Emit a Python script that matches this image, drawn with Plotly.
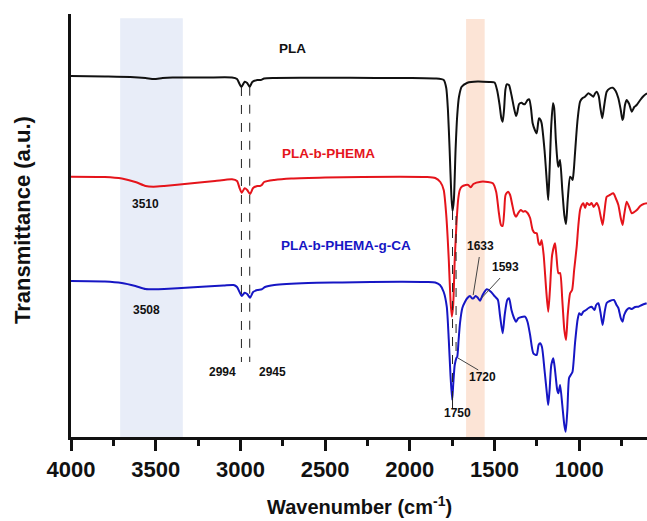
import numpy as np
import plotly.graph_objects as go

# ---------------- data (wavenumber cm-1, transmittance a.u.) ----------------
pla_wn = [4000, 3800, 3650, 3560, 3510, 3460, 3400, 3200, 3050, 3020, 3005, 2994, 2975, 2960, 2945, 2930,
          2900, 2880, 2860, 2800, 2500, 2200, 2000, 1850, 1800, 1785, 1775, 1765, 1755, 1748, 1740, 1730,
          1720, 1710, 1694, 1660, 1600, 1530, 1500, 1485, 1470, 1460, 1452, 1444, 1436, 1428, 1415, 1400,
          1385, 1373, 1365, 1355, 1340, 1330, 1320, 1305, 1295, 1285, 1275, 1262, 1251, 1242, 1237, 1228,
          1222, 1205, 1190, 1183, 1175, 1165, 1155, 1148, 1138, 1128, 1123, 1113, 1100, 1088, 1078, 1068,
          1054, 1046, 1039, 1032, 1025, 1010, 995, 980, 966, 946, 930, 917, 905, 897, 885, 875, 864, 852,
          838, 820, 802, 785, 769, 755, 745, 740, 730, 720, 705, 690, 675, 661, 640, 620, 600]
pla_py = [76, 76.5, 77, 78, 79, 78, 77.5, 77.5, 77.5, 79, 84, 87, 81.7, 83, 86.7, 82,
          80, 80, 78.5, 78, 77.7, 78, 78, 78.5, 80, 88, 110, 150, 195, 211, 200, 150,
          115, 97, 86.7, 82.7, 81.5, 82, 82.5, 90, 105, 118, 121.7, 110, 90, 84.3, 85, 95,
          108, 116, 112, 104, 102.7, 104, 104, 100, 99.3, 108, 123.3, 130, 133.3, 122, 118.3, 120,
          123.3, 150, 185, 200, 170, 125, 103.3, 108, 140, 162, 166.7, 160, 190, 215, 224, 200,
          176.7, 178, 180, 170, 153.3, 120, 101.7, 98, 96.7, 93.3, 95, 96.7, 93, 91.7, 96, 108, 118.3, 105,
          91.7, 88.5, 87.7, 91, 98.3, 110, 120, 118, 105, 100, 104, 111.7, 107, 105, 100, 96, 93.3]

phema_wn = [4000, 3800, 3700, 3620, 3560, 3514, 3450, 3300, 3150, 3050, 3020, 3005, 2992, 2975, 2960, 2943,
            2925, 2900, 2885, 2874, 2860, 2800, 2700, 2500, 2058, 1900, 1850, 1820, 1800, 1785, 1770, 1760,
            1752, 1744, 1735, 1725, 1715, 1705, 1694, 1670, 1655, 1640, 1625, 1580, 1540, 1510, 1490, 1475,
            1462, 1452, 1443, 1435, 1420, 1408, 1395, 1383, 1373, 1360, 1345, 1330, 1320, 1305, 1290, 1275,
            1262, 1251, 1240, 1231, 1222, 1210, 1195, 1183, 1173, 1160, 1143, 1135, 1123, 1113, 1100, 1088,
            1078, 1068, 1054, 1042, 1030, 1015, 1005, 995, 985, 976, 965, 955, 940, 927, 915, 897, 885, 875,
            862, 850, 838, 820, 799, 785, 769, 755, 744, 735, 720, 705, 690, 675, 660, 640, 620, 600]
phema_py = [176.7, 177, 178.5, 182, 186, 186.7, 186, 183.5, 181, 179.3, 181, 188, 192.7, 188.3, 190, 194,
            188, 186, 186, 185, 182, 180, 178.5, 177.5, 176.7, 177, 178, 182, 190, 215, 260, 300,
            316.7, 305, 260, 225, 200, 190, 186.7, 185, 185, 187.3, 184, 181.7, 182, 183.3, 192, 212,
            225, 226, 212, 195, 191.7, 195, 205, 214, 216.7, 213, 210, 211.7, 211, 213, 218, 230,
            233, 233.3, 243, 245, 240, 255, 290, 311.7, 290, 255, 243.3, 255, 273.3, 273, 300, 330,
            340, 315, 293.3, 290, 270, 246.7, 225, 210, 205, 203.3, 208, 203, 205, 203, 207, 203, 207, 215,
            225, 210, 196.7, 195, 193.3, 198, 205, 218, 225, 215, 201.7, 207, 213.3, 212, 210, 206, 204, 203.3]

ca_wn = [4000, 3800, 3700, 3620, 3560, 3508, 3450, 3300, 3100, 3040, 3020, 3005, 2992, 2975, 2960, 2943,
         2925, 2900, 2874, 2855, 2800, 2600, 2400, 2058, 1900, 1850, 1822, 1800, 1782, 1770, 1760, 1750,
         1744, 1735, 1725, 1720, 1712, 1704, 1690, 1674, 1660, 1645, 1633, 1625, 1612, 1600, 1586, 1570,
         1546, 1520, 1497, 1480, 1468, 1452, 1440, 1425, 1414, 1400, 1385, 1373, 1360, 1340, 1320, 1305,
         1290, 1271, 1251, 1240, 1231, 1220, 1205, 1190, 1183, 1175, 1165, 1153, 1143, 1130, 1123, 1113,
         1100, 1088, 1080, 1070, 1060, 1050, 1040, 1025, 1010, 1000, 988, 976, 960, 945, 927, 910, 900,
         887, 875, 862, 850, 838, 820, 795, 780, 769, 755, 744, 735, 720, 705, 690, 670, 651, 630, 602]
ca_py = [281, 281.5, 283, 286, 289, 289.3, 289, 287.5, 285.5, 285, 287, 292, 296, 292.7, 294, 297.7,
         292, 290, 289.3, 287, 285, 283, 282.5, 281.7, 282, 282.5, 285, 292, 306.7, 340, 375, 400,
         385, 365, 358, 356.7, 340, 323.3, 308, 301.7, 298, 296, 298.3, 298.3, 296, 297.5, 300.7, 295,
         289.3, 292, 296.7, 300, 315, 333.3, 315, 300, 298.3, 310, 318, 321.7, 318.3, 317, 316.7, 322,
         335, 353.3, 355, 345, 343.3, 347, 370, 395, 405, 390, 365, 358.3, 370, 390, 393.3, 385,
         405, 425, 431.7, 410, 378, 375, 372, 343.3, 320, 313.3, 315, 311.7, 310, 308, 306.7, 310, 305,
         303.3, 312, 325, 312, 303, 301, 300, 305, 308, 318, 321.7, 315, 310, 308, 309, 307, 306.7, 305, 303.3]

BASE = 437.0  # convert read-off image rows to upward a.u.
pla_t = [BASE - v for v in pla_py]
phema_t = [BASE - v for v in phema_py]
ca_t = [BASE - v for v in ca_py]

tick_vals = [4000, 3500, 3000, 2500, 2000, 1500, 1000]
tick_text = ["4000", "3500", "3000", "2500", "2000", "1500", "1000"]
minor_vals = [3750, 3250, 2750, 2250, 1750, 1250, 750]

series_names = ["PLA", "PLA-b-PHEMA", "PLA-b-PHEMA-g-CA"]
series_colors = ["#111111", "#e5141b", "#1616c4"]

FONT = "Liberation Sans, Arial, sans-serif"

fig = go.Figure()
for wn, t, name, col in zip([pla_wn, phema_wn, ca_wn], [pla_t, phema_t, ca_t], series_names, series_colors):
    fig.add_trace(go.Scatter(x=wn, y=t, mode="lines", name=name,
                             line=dict(color=col, width=2, shape="spline", smoothing=0.6),
                             showlegend=False, hoverinfo="skip"))

def interp(wn, t, x):
    return float(np.interp(x, wn[::-1], t[::-1]))

shapes = []
# shaded regions
shapes.append(dict(type="rect", xref="x", yref="paper", x0=3710, x1=3340, y0=0, y1=0.990,
                   fillcolor="rgba(214,223,242,0.55)", line=dict(width=0), layer="below"))
shapes.append(dict(type="rect", xref="x", yref="paper", x0=1668, x1=1558, y0=0, y1=0.988,
                   fillcolor="rgba(250,205,180,0.55)", line=dict(width=0), layer="below"))
# dashed guide lines
dash = dict(color="#222222", width=1, dash="dash")
for x in [2994, 2945]:
    shapes.append(dict(type="line", xref="x", yref="y", x0=x, x1=x,
                       y0=interp(pla_wn, pla_t, x), y1=BASE - 362, line=dash))
shapes.append(dict(type="line", xref="x", yref="y", x0=1748, x1=1748,
                   y0=interp(pla_wn, pla_t, 1748), y1=interp(ca_wn, ca_t, 1750), line=dash))
shapes.append(dict(type="line", xref="x", yref="y", x0=1727, x1=1727,
                   y0=BASE - 216, y1=interp(ca_wn, ca_t, 1722), line=dash))
shapes.append(dict(type="line", xref="x", yref="y", x0=1748, x1=1748,
                   y0=interp(ca_wn, ca_t, 1750), y1=BASE - 408, line=dash))
# leader lines
lead = dict(color="#444444", width=1)
shapes.append(dict(type="line", xref="x", yref="y", x0=1716, x1=1596, y0=BASE - 358, y1=BASE - 370, line=lead))
shapes.append(dict(type="line", xref="x", yref="y", x0=1626, x1=1590, y0=BASE - 295, y1=BASE - 257, line=lead))
shapes.append(dict(type="line", xref="x", yref="y", x0=1576, x1=1467, y0=BASE - 298, y1=BASE - 278, line=lead))

annotations = []
lbl_font = dict(family=FONT, size=12, color="#111111", weight="bold")
peak_labels = [("3510", 3563, BASE - 203.5, "center"),
               ("3508", 3557, BASE - 309.5, "center"),
               ("2994", 3012, BASE - 371.5, "right"),
               ("2945", 2905, BASE - 371.5, "left"),
               ("1750", 1716, BASE - 413, "center"),
               ("1720", 1571, BASE - 377, "center"),
               ("1633", 1584, BASE - 246, "center"),
               ("1593", 1438, BASE - 267, "center")]
for txt, x, y, anc in peak_labels:
    annotations.append(dict(text=txt, x=x, y=y, xref="x", yref="y", showarrow=False,
                            xanchor=anc, yanchor="middle", font=lbl_font))

name_pos = [(2690, BASE - 48), (2483, BASE - 153.5), (2377, BASE - 245.5)]
for name, col, (x, y) in zip(series_names, series_colors, name_pos):
    annotations.append(dict(text=name, x=x, y=y, xref="x", yref="y", showarrow=False,
                            xanchor="center", yanchor="middle",
                            font=dict(family=FONT, size=13.5, color=col, weight="bold")))

annotations.append(dict(text="Wavenumber (cm<sup>-1</sup>)", xref="paper", yref="paper",
                        x=0.5, y=(437 - 506) / 423, xanchor="center", yanchor="middle",
                        showarrow=False, font=dict(family=FONT, size=20, color="#111111", weight="bold")))
annotations.append(dict(text="Transmittance (a.u.)", xref="paper", yref="paper",
                        x=(22 - 71) / 576, y=(437 - 220) / 423, xanchor="center", yanchor="middle",
                        textangle=-90, showarrow=False,
                        font=dict(family=FONT, size=22, color="#111111", weight="bold")))

fig.update_layout(
    width=647, height=521,
    margin=dict(l=71, r=0, t=14, b=84),
    paper_bgcolor="white", plot_bgcolor="white",
    shapes=shapes, annotations=annotations,
    xaxis=dict(range=[4000, 600], showgrid=False, zeroline=False,
               showline=True, linecolor="#111111", linewidth=3,
               ticks="outside", ticklen=11, tickwidth=3, tickcolor="#111111",
               tickvals=tick_vals, ticktext=tick_text,
               tickfont=dict(family=FONT, size=22, color="#111111", weight="bold"),
               minor=dict(tickvals=minor_vals, ticks="outside", ticklen=6, tickwidth=3,
                          tickcolor="#111111", showgrid=False)),
    yaxis=dict(range=[0, 423], showgrid=False, zeroline=False,
               showline=True, linecolor="#111111", linewidth=3,
               showticklabels=False, ticks=""),
)

fig.write_html("out.html")
